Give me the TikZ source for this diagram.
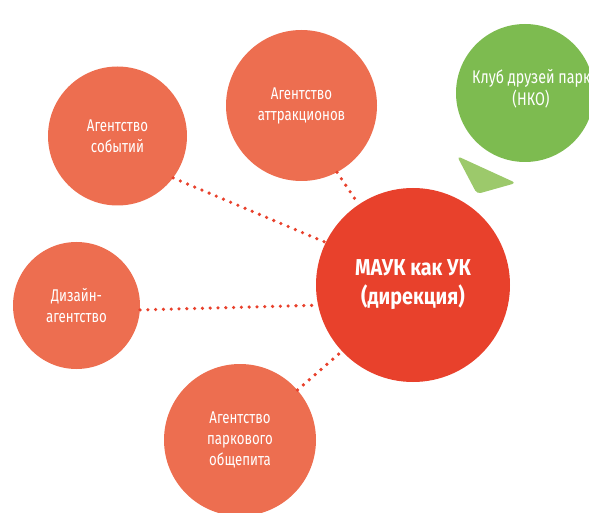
\documentclass[tikz,border=0pt]{standalone}
\usepackage{fontspec}
\setmainfont{Fira Sans}[FakeStretch=0.78]
\newfontfamily\widerfont{Fira Sans}[FakeStretch=0.86]
\definecolor{agc}{HTML}{ED6E50}
\definecolor{mainc}{HTML}{E8412C}
\definecolor{grc}{HTML}{7DBB50}
\definecolor{lgrc}{HTML}{9CC96B}
\definecolor{dotc}{HTML}{E8412C}
\begin{document}
\begin{tikzpicture}[x=1pt,y=-1pt,
  agency/.style={circle,fill=agc,draw=none,inner sep=0pt,text=white,align=center,
    font=\fontsize{17}{21}\selectfont},
  gtext/.style={text=white,inner sep=0pt,font=\fontsize{18.3}{22}\selectfont},
  dotline/.style={draw=dotc,line width=3.6pt,line cap=round,dash pattern=on 0pt off 7.8pt}]
\useasboundingbox (0,0) rectangle (589,513);
\clip (0,0) rectangle (589,513);
% green
\node[circle,fill=grc,minimum size=138pt,inner sep=0pt] (club) at (525,93) {};
\node[gtext,anchor=base west] (clubt) at (472,84) {Клуб друзей парк};
\node[gtext,anchor=base] (clubn) at (531,106) {(НКО)};
\fill[lgrc,rounded corners=4pt] (457,156) -- (516,183) -- (477,194) -- cycle;
% agencies
\node[agency,minimum size=139pt] (ev) at (117.5,136) {Агентство\\событий};
\node[agency,minimum size=151pt] (at) at (301.5,105.5) {Агентство\\аттракционов};
\node[agency,minimum size=127pt] (ds) at (76.5,305.5) {Дизайн-\\агентство};
\node[agency,minimum size=152pt] (fd) at (240,440) {Агентство\\паркового\\общепита};
% main
\node[circle,fill=mainc,minimum size=194pt,inner sep=0pt,text=white,align=center,
  font=\widerfont\bfseries\fontsize{23}{29}\selectfont] (main) at (413,285) {МАУК как УК\\(дирекция)};
% connectors
\draw[dotline] (ev.-37) -- (main.154.5);
\draw[dotline] (at.-62) -- (main.124);
\draw[dotline] (ds.-4) -- (main.192);
\draw[dotline] (fd.41) -- (main.223);
\end{tikzpicture}
\end{document}
